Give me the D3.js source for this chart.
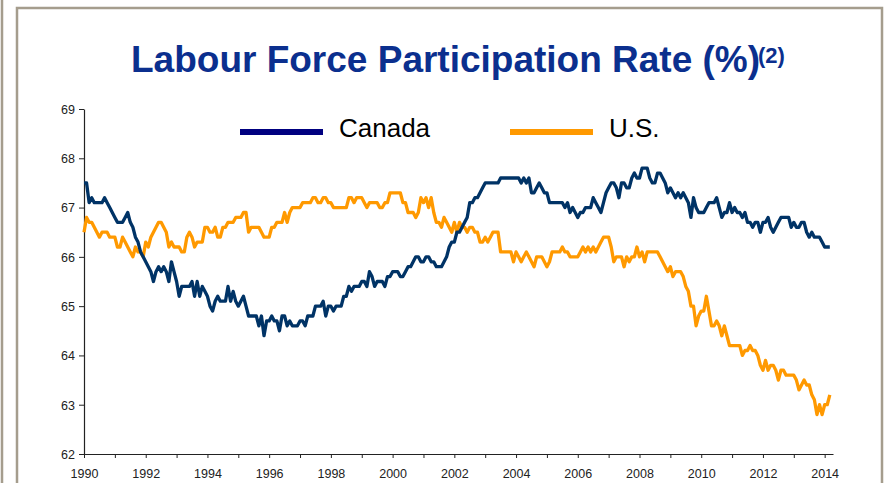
<!DOCTYPE html>
<html>
<head>
<meta charset="utf-8">
<script src="https://cdn.jsdelivr.net/npm/d3@7"></script>
<style>
  body { margin: 0; background: #fff; }
  svg { display: block; }
</style>
</head>
<body>
<div id="chart"></div>
<script>
// monthly values, Jan 1990 - Mar 2014
var years = d3.range(1990, 2015);

var canada = [
    67.5, 67.5, 67.1, 67.2, 67.1, 67.1, 67.1, 67.1, 67.2, 67.1, 67.0, 66.9,
    66.8, 66.7, 66.7, 66.7, 66.8, 66.9, 66.7, 66.6, 66.4, 66.3, 66.1, 66.0,
    65.9, 65.8, 65.7, 65.5, 65.7, 65.8, 65.7, 65.8, 65.7, 65.5, 65.9, 65.7,
    65.5, 65.2, 65.4, 65.4, 65.4, 65.4, 65.5, 65.2, 65.5, 65.2, 65.4, 65.3,
    65.2, 65.0, 64.9, 65.1, 65.2, 65.1, 65.1, 65.1, 65.4, 65.1, 65.3, 65.1,
    65.0, 65.1, 65.2, 65.0, 64.8, 64.8, 64.8, 64.8, 64.6, 64.8, 64.4, 64.7,
    64.7, 64.8, 64.7, 64.7, 64.5, 64.8, 64.8, 64.6, 64.7, 64.6, 64.6, 64.6,
    64.7, 64.7, 64.6, 64.8, 64.8, 64.8, 65.0, 65.0, 65.0, 65.1, 64.8, 65.0,
    65.0, 64.9, 65.0, 65.0, 65.0, 65.2, 65.2, 65.4, 65.3, 65.4, 65.4, 65.4,
    65.5, 65.5, 65.4, 65.7, 65.6, 65.4, 65.5, 65.5, 65.5, 65.4, 65.6, 65.6,
    65.7, 65.7, 65.7, 65.6, 65.6, 65.7, 65.8, 65.8, 65.9, 66.0, 66.0, 65.9,
    65.9, 66.0, 66.0, 65.9, 65.9, 65.8, 65.8, 65.8, 65.9, 66.0, 66.2, 66.3,
    66.3, 66.5, 66.5, 66.6, 66.7, 66.8, 67.1, 67.1, 67.2, 67.2, 67.3, 67.4,
    67.5, 67.5, 67.5, 67.5, 67.5, 67.5, 67.6, 67.6, 67.6, 67.6, 67.6, 67.6,
    67.6, 67.6, 67.5, 67.6, 67.5, 67.6, 67.3, 67.3, 67.4, 67.5, 67.4, 67.3,
    67.3, 67.1, 67.1, 67.1, 67.1, 67.1, 67.1, 67.0, 67.1, 66.9, 67.0, 66.9,
    66.8, 66.9, 66.9, 67.0, 67.0, 67.0, 67.2, 67.1, 67.0, 66.9, 67.1, 67.3,
    67.4, 67.5, 67.5, 67.4, 67.2, 67.5, 67.5, 67.4, 67.4, 67.6, 67.7, 67.6,
    67.6, 67.8, 67.8, 67.8, 67.6, 67.5, 67.5, 67.7, 67.7, 67.6, 67.5, 67.3,
    67.4, 67.3, 67.2, 67.3, 67.2, 67.3, 67.2, 67.1, 66.8, 67.2, 67.0, 66.9,
    66.9, 66.9, 67.0, 67.1, 67.1, 67.1, 67.2, 67.0, 66.8, 66.9, 66.9, 67.1,
    66.9, 67.0, 66.9, 66.9, 66.8, 66.9, 66.7, 66.7, 66.6, 66.7, 66.7, 66.5,
    66.7, 66.7, 66.8, 66.6, 66.5, 66.6, 66.7, 66.8, 66.8, 66.8, 66.8, 66.6,
    66.7, 66.6, 66.6, 66.7, 66.7, 66.5, 66.4, 66.5, 66.4, 66.4, 66.4, 66.3,
    66.2, 66.2, 66.2
];

var us = [
    66.5, 66.8, 66.7, 66.7, 66.6, 66.5, 66.4, 66.5, 66.5, 66.5, 66.4, 66.4,
    66.4, 66.2, 66.2, 66.4, 66.3, 66.2, 66.1, 66.0, 66.2, 66.1, 66.1, 66.0,
    66.3, 66.2, 66.4, 66.5, 66.6, 66.7, 66.7, 66.6, 66.5, 66.2, 66.3, 66.2,
    66.2, 66.2, 66.1, 66.1, 66.4, 66.5, 66.4, 66.2, 66.3, 66.3, 66.3, 66.6,
    66.6, 66.5, 66.5, 66.6, 66.4, 66.4, 66.6, 66.6, 66.7, 66.7, 66.7, 66.8,
    66.8, 66.8, 66.9, 66.9, 66.5, 66.6, 66.6, 66.6, 66.6, 66.5, 66.4, 66.4,
    66.4, 66.6, 66.6, 66.7, 66.7, 66.7, 66.9, 66.7, 66.9, 67.0, 67.0, 67.0,
    67.0, 67.1, 67.1, 67.1, 67.1, 67.2, 67.2, 67.1, 67.1, 67.2, 67.2, 67.1,
    67.1, 67.0, 67.0, 67.0, 67.0, 67.0, 67.0, 67.2, 67.2, 67.1, 67.2, 67.2,
    67.2, 67.1, 67.0, 67.1, 67.1, 67.1, 67.1, 67.0, 67.0, 67.1, 67.1, 67.3,
    67.3, 67.3, 67.3, 67.3, 67.1, 67.1, 66.9, 66.9, 66.9, 66.8, 66.9, 67.2,
    67.1, 67.2, 67.0, 67.2, 66.9, 66.7, 66.7, 66.6, 66.8, 66.7, 66.6, 66.5,
    66.7, 66.5, 66.7, 66.6, 66.6, 66.5, 66.6, 66.6, 66.5, 66.5, 66.3, 66.3,
    66.4, 66.3, 66.4, 66.5, 66.5, 66.5, 66.1, 66.1, 66.1, 66.1, 66.1, 65.9,
    66.1, 66.0, 65.9, 66.0, 66.1, 66.0, 65.9, 65.8, 66.0, 66.0, 66.0, 65.9,
    65.8, 65.9, 66.1, 66.1, 66.1, 66.1, 66.2, 66.1, 66.1, 66.0, 66.0, 66.0,
    66.0, 66.1, 66.2, 66.1, 66.2, 66.1, 66.2, 66.1, 66.2, 66.3, 66.4, 66.4,
    66.4, 66.2, 65.9, 66.0, 66.0, 66.0, 65.8, 66.0, 65.9, 66.0, 66.0, 66.2,
    66.0, 66.1, 65.9, 66.1, 66.1, 66.1, 66.1, 66.1, 66.0, 65.9, 65.8, 65.7,
    65.8, 65.6, 65.7, 65.7, 65.7, 65.6, 65.4, 65.3, 65.0, 65.0, 64.6, 64.8,
    64.9, 64.9, 65.2, 64.9, 64.6, 64.6, 64.7, 64.6, 64.4, 64.6, 64.4, 64.2,
    64.2, 64.2, 64.2, 64.2, 64.0, 64.1, 64.1, 64.2, 64.1, 64.1, 64.0, 63.8,
    63.7, 63.9, 63.7, 63.8, 63.8, 63.7, 63.5, 63.7, 63.7, 63.6, 63.6, 63.6,
    63.6, 63.5, 63.3, 63.4, 63.5, 63.4, 63.4, 63.2, 63.1, 62.8, 63.0, 62.8,
    63.0, 63.0, 63.2
];

var yTicks = [62, 63, 64, 65, 66, 67, 68, 69];
var xLabels = [1990, 1992, 1994, 1996, 1998, 2000, 2002, 2004, 2006, 2008, 2010, 2012, 2014];

var seriesNames = ["Canada", "U.S."];
var lineColors = ["#003366", "#ff9900"];
var legendColors = ["#000080", "#ff9900"];

var width = 888, height = 483;
var font = "'Liberation Sans', Arial, sans-serif";

var svg = d3.select("#chart")
    .append("svg")
    .attr("width", width)
    .attr("height", height);

// slide frame
svg.append("line")
    .attr("x1", 2).attr("x2", 2).attr("y1", 0).attr("y2", height)
    .attr("stroke", "#a59d8d").attr("stroke-width", 2.5);
svg.append("path")
    .attr("d", "M17," + (height + 5) + "V8H882V" + (height + 5))
    .attr("fill", "none")
    .attr("stroke", "#a59d8d")
    .attr("stroke-width", 2.5);

// scales
var x = d3.scaleLinear().domain([1990, 2014.27]).range([84, 833]);
var y = d3.scaleLinear().domain([62, 69]).range([454, 109]);

var toPoints = function (vals) {
    return vals.map(function (v, i) { return { t: 1990 + i / 12, v: v }; });
};

// y axis
var yAxis = svg.append("g")
    .attr("transform", "translate(84,0)")
    .call(d3.axisLeft(y).tickValues(yTicks).tickSize(5).tickSizeOuter(0).tickFormat(d3.format("d")));

// x axis
var xAxis = svg.append("g")
    .attr("transform", "translate(0,454)")
    .call(d3.axisBottom(x).tickValues(years).tickSize(4).tickSizeOuter(0)
        .tickFormat(function (d) { return xLabels.indexOf(d) >= 0 ? d : ""; }));

[yAxis, xAxis].forEach(function (ax) {
    ax.select(".domain").attr("stroke", "#222").attr("stroke-width", 1.2);
    ax.selectAll(".tick line").attr("stroke", "#222");
    ax.selectAll(".tick text")
        .attr("fill", "#222")
        .style("font-family", font)
        .style("font-size", "12.5px");
});
yAxis.selectAll(".tick text").attr("x", -9).attr("dy", "0.35em");
xAxis.selectAll(".tick text").attr("y", 15);

// lines
var line = d3.line()
    .x(function (d) { return x(d.t); })
    .y(function (d) { return y(d.v); });

[us, canada].forEach(function (vals, k) {
    svg.append("path")
        .datum(toPoints(vals))
        .attr("fill", "none")
        .attr("stroke", k == 0 ? lineColors[1] : lineColors[0])
        .attr("stroke-width", 3.3)
        .attr("stroke-linejoin", "round")
        .attr("d", line);
});

// legend
var legendX = [240, 510];
seriesNames.forEach(function (name, i) {
    svg.append("line")
        .attr("x1", legendX[i]).attr("x2", legendX[i] + 83)
        .attr("y1", 132).attr("y2", 132)
        .attr("stroke", legendColors[i])
        .attr("stroke-width", 6);
    svg.append("text")
        .attr("x", legendX[i] + 99)
        .attr("y", 137)
        .style("font-family", font)
        .style("font-size", "26px")
        .attr("fill", "#000")
        .text(name);
});

// title
svg.append("text")
    .attr("x", 131)
    .attr("y", 72)
    .style("font-family", font)
    .style("font-size", "37px")
    .style("font-weight", "bold")
    .attr("fill", "#0b2f8e")
    .text("Labour Force Participation Rate (%)");
svg.append("text")
    .attr("x", 758)
    .attr("y", 63)
    .style("font-family", font)
    .style("font-size", "22px")
    .style("font-weight", "bold")
    .attr("fill", "#0b2f8e")
    .text("(2)");
</script>
</body>
</html>
